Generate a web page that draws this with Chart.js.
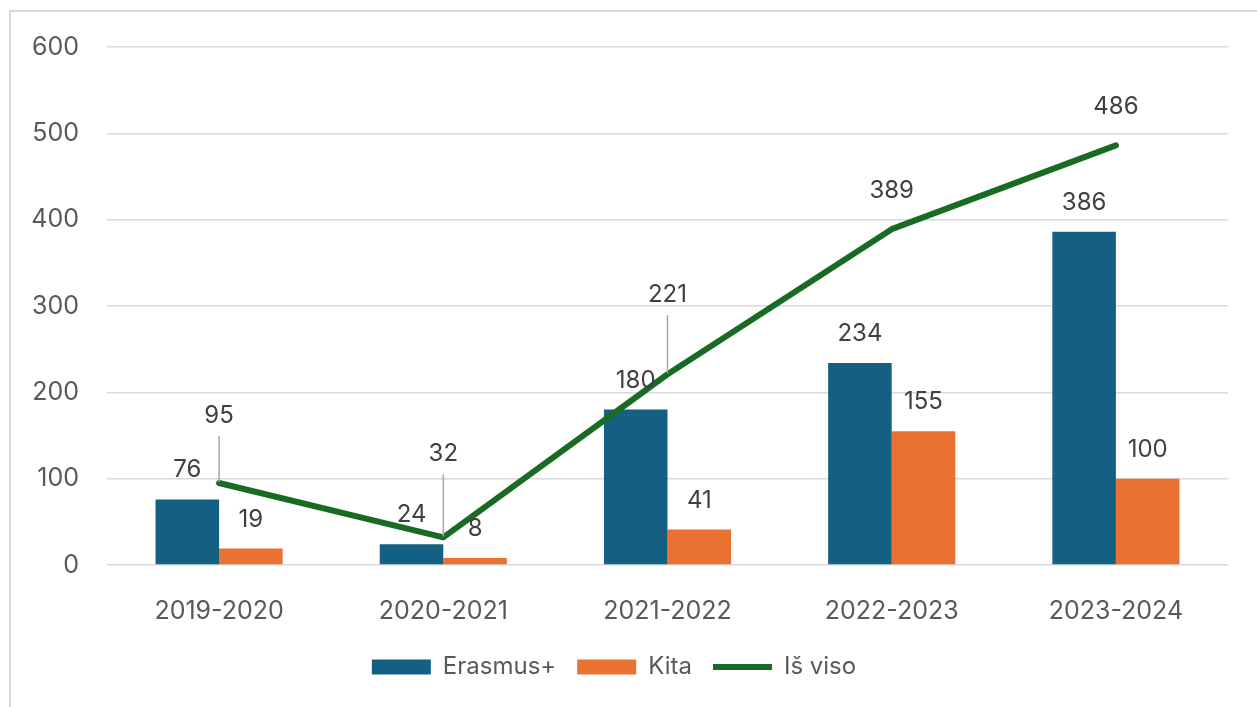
<!DOCTYPE html>
<html>
<head>
<meta charset="utf-8">
<script src="https://cdn.jsdelivr.net/npm/chart.js@4.4.1/dist/chart.umd.min.js"></script>
<style>
  body { margin: 0; background: #fff; }
  #wrap { position: relative; width: 1257px; height: 707px; }
  #frame { position: absolute; left: 9px; top: 10px; width: 1300px; height: 800px;
           border-left: 2px solid #d9d9d9; border-top: 2px solid #d9d9d9; }
  canvas { position: absolute; left: 0; top: 0; }
</style>
</head>
<body>
<div id="wrap">
  <div id="frame"></div>
  <canvas id="chart" width="1257" height="707"></canvas>
</div>
<script>
const years = ["2019-2020", "2020-2021", "2021-2022", "2022-2023", "2023-2024"];
const erasmus = [76, 24, 180, 234, 386];
const kita = [19, 8, 41, 155, 100];
const total = [95, 32, 221, 389, 486];

const FONT = "Inter, 'Liberation Sans', Arial, sans-serif";

// how far above each point the total's label sits (px); >40 gets a leader line
const totalLift = [60, 76, 72, 31, 31];

const valueLabels = {
  id: "valueLabels",
  afterDatasetsDraw(chart) {
    const ctx = chart.ctx;
    ctx.save();
    ctx.font = "24px " + FONT;
    ctx.fillStyle = "#404040";
    ctx.textAlign = "center";
    ctx.textBaseline = "alphabetic";
    chart.data.datasets.forEach((ds, di) => {
      const meta = chart.getDatasetMeta(di);
      meta.data.forEach((el, i) => {
        const v = ds.data[i];
        if (ds.type === "line") {
          const lift = totalLift[i];
          const ty = el.y - lift;
          if (lift > 40) {
            ctx.strokeStyle = "#a6a6a6";
            ctx.lineWidth = 1.5;
            ctx.beginPath();
            ctx.moveTo(el.x, ty + 13);
            ctx.lineTo(el.x, el.y - 1);
            ctx.stroke();
          }
          ctx.fillText(String(v), el.x, ty);
        } else {
          ctx.fillText(String(v), el.x, el.y - 22);
        }
      });
    });
    ctx.restore();
  }
};

new Chart(document.getElementById("chart").getContext("2d"), {
  data: {
    labels: years,
    datasets: [
      {
        type: "bar",
        label: "Erasmus+",
        data: erasmus,
        backgroundColor: "#156082",
        pointStyle: "rect",
        order: 1
      },
      {
        type: "bar",
        label: "Kita",
        data: kita,
        backgroundColor: "#e97132",
        pointStyle: "rect",
        order: 1
      },
      {
        type: "line",
        label: "Iš viso",
        data: total,
        borderColor: "#196b24",
        backgroundColor: "#196b24",
        borderWidth: 6,
        borderCapStyle: "round",
        borderJoinStyle: "round",
        pointRadius: 0,
        pointStyle: "line",
        tension: 0,
        order: 0
      }
    ]
  },
  options: {
    responsive: false,
    devicePixelRatio: 1,
    animation: false,
    categoryPercentage: 0.567,
    barPercentage: 1,
    layout: { padding: { left: 0, right: 29, top: 47, bottom: 18 } },
    plugins: {
      tooltip: { enabled: false },
      legend: {
        position: "bottom",
        labels: {
          usePointStyle: true,
          pointStyleWidth: 59,
          boxHeight: 15,
          padding: 21,
          color: "#595959",
          font: { family: FONT, size: 24 },
          sort: (a, b) => a.datasetIndex - b.datasetIndex
        }
      }
    },
    scales: {
      x: {
        grid: { display: false },
        border: { display: false },
        ticks: {
          color: "#595959",
          font: { family: FONT, size: 25 },
          padding: 23,
          maxRotation: 0
        },
        afterFit: (s) => { s.height = 69; }
      },
      y: {
        min: 0,
        max: 600,
        grid: { color: "#d9d9d9", lineWidth: 1.5, drawTicks: false },
        border: { display: false },
        ticks: {
          stepSize: 100,
          color: "#595959",
          font: { family: FONT, size: 25 },
          padding: 28
        },
        afterFit: (s) => { s.width = 107; }
      }
    }
  },
  plugins: [valueLabels]
});
</script>
</body>
</html>
